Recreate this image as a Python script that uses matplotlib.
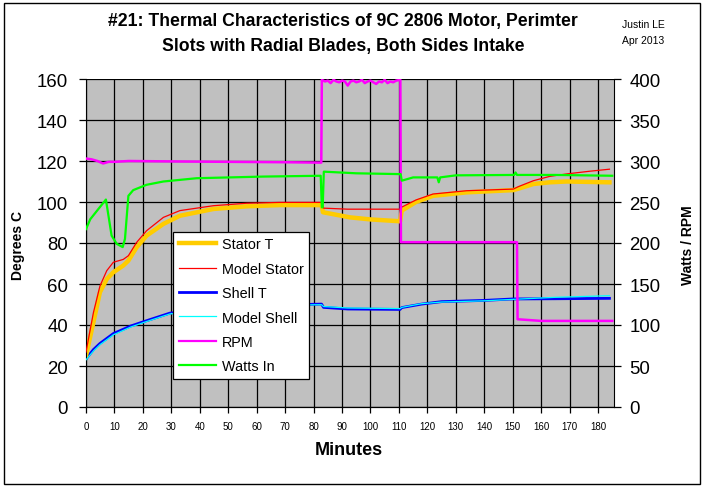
import matplotlib
matplotlib.use("Agg")
import matplotlib.pyplot as plt
from matplotlib.patches import Rectangle
from matplotlib.lines import Line2D

plt.rcParams['font.family'] = ['Liberation Sans', 'DejaVu Sans']

title = "#21: Thermal Characteristics of 9C 2806 Motor, Perimter\nSlots with Radial Blades, Both Sides Intake"
author = "Justin LE\nApr 2013"
x_ticks = list(range(0, 181, 10))
left_ticks = list(range(0, 161, 20))
right_ticks = list(range(0, 401, 50))

# Stator T (deg C)
t_stator = [0, 2.6, 4.9, 7.3, 9.6, 13.1, 14.9, 17.8, 21.3, 27.2, 33, 44.8, 56.5, 68.2, 82.8,
            83.3, 92.8, 100, 110.4, 111, 116, 122, 133.8, 150.2, 152, 157.3, 163, 169, 184]
stator = [25, 41.3, 56, 62.4, 65.7, 69, 71.4, 77.9, 83.6, 89.3, 93.3, 96.6, 97.9, 98.5, 98.5,
          95, 92.5, 91.5, 90.6, 95.8, 100, 103, 104.7, 105.8, 106.5, 108.8, 109.6, 110, 109.6]

# Model Stator (deg C)
t_model_stator = [0, 2.6, 4.9, 7.3, 9.6, 13.1, 14.9, 17.8, 21.3, 27.2, 33, 44.8, 56.5, 68.2, 82.8,
                  83.5, 92, 100, 110.4, 111, 116, 122, 133.8, 150.2, 152, 157.3, 163, 169, 177, 184]
model_stator = [26.8, 46, 59, 66.5, 70.6, 72, 73.8, 80.3, 86, 92.5, 95.8, 98.2, 99.4, 99.8, 99.8,
                97, 96.5, 96.5, 96.5, 97.5, 101, 103.9, 105.5, 106.3, 107.5, 110.4, 112.5, 113.7, 115, 116]

# Shell T (deg C)
t_shell = [0, 2.6, 4.9, 9.6, 15.7, 21.3, 29.5, 40, 50, 60, 70, 82.8, 83.5, 92, 110.4, 111,
           118, 125, 140, 150, 165, 184]
shell = [23.4, 28, 31, 35.8, 39.5, 42.1, 45.8, 47.5, 48.5, 49.2, 49.8, 50.2, 48.6, 47.8, 47.6, 48.5,
         50.2, 51.4, 52, 52.7, 52.8, 53]

# Model Shell (deg C)
t_model_shell = [0, 2.6, 4.9, 9.6, 15.7, 21.3, 29.5, 40, 50, 60, 70, 82.8, 83.5, 92, 110.4, 111,
                 118, 125, 140, 150, 165, 184]
model_shell = [23, 27.3, 30.4, 35.2, 39, 41.7, 45.4, 47.3, 48.4, 49.1, 49.7, 49.9, 49, 48.3, 48, 48.6,
               50.4, 51.2, 51.8, 52.5, 53.5, 54.3]

# RPM (right axis)
t_rpm = [0, 2, 4, 6, 8, 10, 15, 30, 50, 70, 82.7, 82.9, 84, 85, 86, 87, 88, 89, 90, 91, 92, 93, 94, 95,
         96, 97, 98, 99, 100, 101, 102, 103, 104, 105, 106, 107, 108, 109, 110.5, 110.7, 151.5, 151.7,
         160, 185]
rpm = [303, 302, 300, 297, 299, 299, 300, 299.5, 299, 298.5, 298, 399, 397, 398, 395, 399, 397, 396, 398,
       397, 392, 397, 398, 396, 397, 399, 395, 397, 398, 396, 394, 397, 396, 399, 395, 397, 396, 398, 399,
       201, 201, 107, 105, 105]

# Watts In (right axis)
t_watts = [0, 1.5, 7, 9, 10.8, 12.9, 13.7, 14.9, 16.6, 21.3, 27.2, 38.9, 62.3, 82.5, 82.9, 83.2, 83.6,
           95, 110.6, 111, 115, 123.5, 124, 124.5, 130, 150.5, 151, 151.5, 165, 185]
watts = [217, 229, 253, 209, 199, 195, 205, 257.5, 264.5, 271, 275, 279, 281, 282, 243.5, 243.5, 287,
         285, 284, 276, 280, 280, 274, 280, 282.5, 283, 286, 283, 283, 282]

fig = plt.figure(figsize=(7.06, 4.89), dpi=100)
fig.patch.set_facecolor('white')
fig.add_artist(Rectangle((4 / 706, 4 / 489), 696 / 706, 481 / 489, transform=fig.transFigure,
                         fill=False, edgecolor='black', linewidth=1.0))

ax = fig.add_axes([86 / 706, 81 / 489, 528 / 706, 328 / 489])
ax.set_facecolor('#C0C0C0')
ax.set_xlim(0, 185.6)
ax.set_ylim(0, 160)
ax.set_xticks(x_ticks)
ax.set_yticks(left_ticks)
ax.grid(True, color='black', linewidth=0.9)
ax.set_axisbelow(True)
for s in ['top', 'right']:
    ax.spines[s].set_visible(False)
ax.tick_params(axis='y', labelsize=13.4, length=5, pad=8, width=0.9)
ax.tick_params(axis='x', labelsize=7, length=4, pad=6, width=0.9)

ax.plot(t_model_shell, model_shell, color='#00FFFF', lw=0.9, zorder=3)
ax.plot(t_shell, shell, color='#0000FF', lw=2.0, zorder=2)
ax.plot(t_stator, stator, color='#FFCC00', lw=3.2, zorder=2)
ax.plot(t_model_stator, model_stator, color='#FF0000', lw=0.9, zorder=3)

ax2 = ax.twinx()
ax2.set_ylim(0, 400)
ax2.set_yticks(right_ticks)
ax2.spines['top'].set_visible(False)
ax2.spines['left'].set_visible(False)
ax2.tick_params(axis='y', labelsize=13.4, length=5, pad=6, width=0.9)
ax2.plot(t_rpm, rpm, color='#FF00FF', lw=1.8)
ax2.plot(t_watts, watts, color='#00FF00', lw=1.6)

handles = [Line2D([], [], color='#FFCC00', lw=3.2), Line2D([], [], color='#FF0000', lw=0.9),
           Line2D([], [], color='#0000FF', lw=2.0), Line2D([], [], color='#00FFFF', lw=0.9),
           Line2D([], [], color='#FF00FF', lw=1.6), Line2D([], [], color='#00FF00', lw=1.6)]
labels = ['Stator T', 'Model Stator', 'Shell T', 'Model Shell', 'RPM', 'Watts In']
leg = ax2.legend(handles, labels, loc='lower left', bbox_to_anchor=(0.165, 0.085), borderaxespad=0,
                 fontsize=10.4, frameon=True, fancybox=False, edgecolor='black', facecolor='white',
                 framealpha=1, borderpad=0.4, labelspacing=0.72, handlelength=2.6, handletextpad=0.35)
leg.get_frame().set_linewidth(0.9)

fig.text(343 / 706, 1 - 34 / 489, title, ha='center', va='center', fontsize=12.7,
         fontweight='bold', linespacing=1.6)
fig.text(643 / 706, 1 - 33 / 489, author, ha='center', va='center', fontsize=7.5, linespacing=1.8)
fig.text(349 / 706, 1 - 451 / 489, 'Minutes', ha='center', va='center', fontsize=13,
         fontweight='bold')
fig.text(18 / 706, 1 - 245 / 489, 'Degrees C', ha='center', va='center', rotation=90,
         fontsize=10, fontweight='bold')
fig.text(688 / 706, 1 - 245 / 489, 'Watts / RPM', ha='center', va='center', rotation=90,
         fontsize=10, fontweight='bold')

fig.savefig('out.png', dpi=100)
